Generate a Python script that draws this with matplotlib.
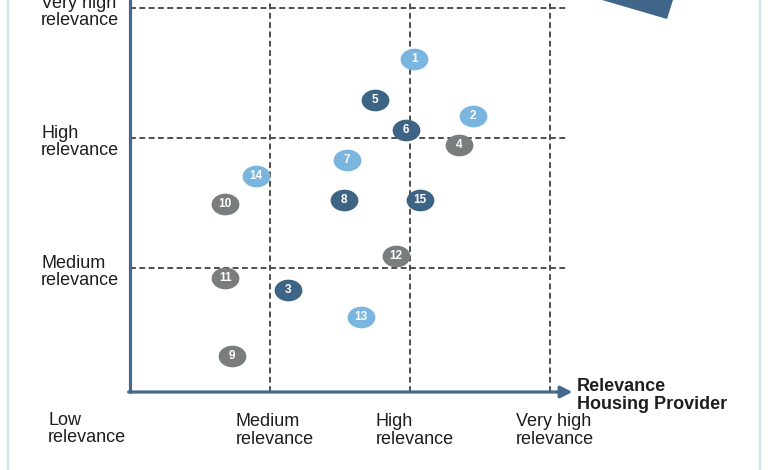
import matplotlib
matplotlib.use("Agg")
import matplotlib.pyplot as plt
import numpy as np
from matplotlib.path import Path
from matplotlib.patches import Polygon
from matplotlib.lines import Line2D

plt.rcParams['font.family'] = ['Liberation Sans', 'DejaVu Sans']

# ---- data ----
ids = ["1", "2", "3", "4", "5", "6", "7", "8", "9", "10", "11", "12", "13", "14", "15"]
x_housing = [2.03, 2.45, 1.13, 2.35, 1.75, 1.97, 1.55, 1.53, 0.73, 0.68, 0.68, 1.90, 1.65, 0.90, 2.07]
y_other = [2.61, 2.17, 0.83, 1.95, 2.29, 2.06, 1.83, 1.52, 0.32, 1.49, 0.92, 1.09, 0.62, 1.71, 1.52]
groups = ["light", "light", "dark", "gray", "dark", "dark", "light", "dark", "gray", "gray",
          "gray", "gray", "light", "light", "dark"]
level_labels = ["Low\nrelevance", "Medium\nrelevance", "High\nrelevance", "Very high\nrelevance"]
x_axis_title = "Relevance\nHousing Provider"

colors = {"light": "#7ab5e0", "dark": "#3d6485", "gray": "#7a7d7e"}

W, H = 780, 470
fig = plt.figure(figsize=(W / 100, H / 100), dpi=100)
ax = fig.add_axes([0, 0, 1, 1])
X0, UX = 130, 140.0
Y0, UY = 398, 130.0
ax.set_xlim(-X0 / UX, (W - X0) / UX)
ax.set_ylim(-(H - Y0) / UY, Y0 / UY)
ax.axis("off")

axis_y = (Y0 - 392) / UY
axis_col = "#44698b"
dash_col = "#4f4f4f"

# dashed grid lines
for lv in [1, 2, 3]:
    ax.plot([lv, lv], [axis_y, 3.2], color=dash_col, lw=1.4, dashes=(3.0, 1.8), zorder=1)
    ax.plot([0, 3.13], [lv, lv], color=dash_col, lw=1.4, dashes=(3.0, 1.8), zorder=1)

# axes lines
ax.plot([0, 0], [axis_y - 0.01, 3.2], color=axis_col, lw=2.3, solid_capstyle="butt", zorder=2)
ax.annotate("", xy=(3.16, axis_y), xytext=(-0.01, axis_y),
            arrowprops=dict(arrowstyle="-|>,head_length=0.7,head_width=0.35", lw=2.3,
                            color=axis_col, shrinkA=0, shrinkB=0), zorder=2)

# points
circ = Path.unit_circle()
ell = Path(circ.vertices * np.array([1.0, 0.78]), circ.codes)
for gname, col in colors.items():
    xs = [x for x, g in zip(x_housing, groups) if g == gname]
    ys = [y for y, g in zip(y_other, groups) if g == gname]
    ax.scatter(xs, ys, marker=ell, s=400, color=col, linewidths=0, zorder=3)
for t, x, y in zip(ids, x_housing, y_other):
    ax.text(x, y, t, color="white", fontsize=8.5, fontweight="bold",
            ha="center", va="center", zorder=4)

txt_col = "#1e1e1e"
# y-axis level labels
for lv in [1, 2, 3]:
    ax.text((41 - X0) / UX, lv - 0.03, level_labels[lv], fontsize=13, color=txt_col,
            ha="left", va="center", linespacing=1.0)
# x-axis level labels
ax.text((48 - X0) / UX, -0.235, level_labels[0], fontsize=13, color=txt_col,
        ha="left", va="center", linespacing=1.0)
for lv in [1, 2, 3]:
    ax.text(lv - 0.245, -0.25, level_labels[lv], fontsize=13, color=txt_col,
            ha="left", va="center", linespacing=1.0)
ax.text((577 - X0) / UX, 0.02, x_axis_title, fontsize=13, fontweight="bold", color=txt_col,
        ha="left", va="center", linespacing=1.05)

# decorative frame and cut-off shape
tf = fig.transFigure
def fp(px, py):
    return (px / W, 1 - py / H)
fig.add_artist(Line2D([8 / W, 8 / W], [0, 1], transform=tf, color="#cfe3f5", lw=1.6))
fig.add_artist(Line2D([760 / W, 760 / W], [0, 1], transform=tf, color="#cfe3f5", lw=1.6))
fig.add_artist(Polygon([fp(596, -3), fp(602, 0), fp(667, 19), fp(673, 0), fp(674, -3)],
                       closed=True, transform=tf, facecolor="#3f6688", edgecolor="none"))

fig.savefig("out.png", dpi=100)
